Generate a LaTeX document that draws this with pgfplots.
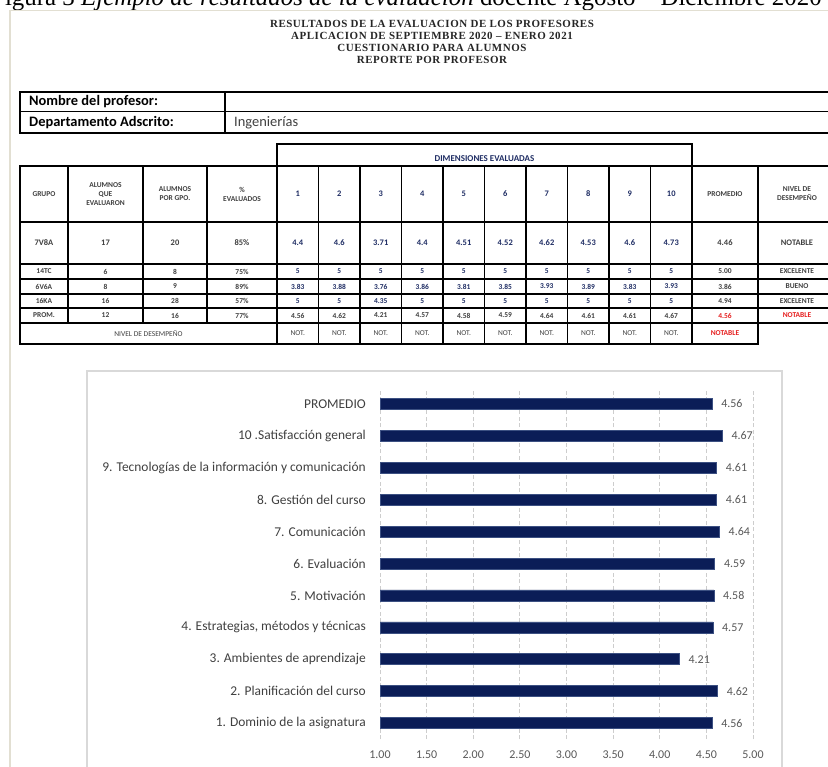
\documentclass[border=0pt]{standalone}
\usepackage{fontspec}
\setmainfont{Carlito}
\newfontfamily\tnr{Liberation Serif}
\newfontfamily\tnrw{Liberation Serif}[LetterSpace=5]
\usepackage{pgfplots}
\pgfplotsset{compat=1.18}
\definecolor{barblue}{RGB}{11,29,87}
\definecolor{baredge}{RGB}{60,80,130}
\definecolor{gridgray}{RGB}{205,205,205}
\definecolor{framegray}{RGB}{217,217,217}
\definecolor{txtgray}{RGB}{64,64,64}
\definecolor{lblgray}{RGB}{89,89,89}
\definecolor{tblnavy}{RGB}{31,45,100}
\definecolor{redtxt}{RGB}{230,30,30}
\definecolor{pageline}{RGB}{226,223,210}
\newcommand\fs[1]{\fontsize{#1}{#1}\selectfont}
\newcommand\rowvals[3]{\foreach \v [count=\i] in {#3} {\node[#2] at ({277+41.5*(\i-0.5)},#1) {\v};}}
\begin{document}
\begin{tikzpicture}
\path[use as bounding box] (0,0) rectangle (828bp,-767bp);
\clip (0,0) rectangle (828bp,-767bp);
\fill[white] (0,0) rectangle (828bp,-767bp);
\begin{scope}[x=1bp,y=-1bp]
% caption (cut at top, as in the reference)
\node[anchor=base west, inner sep=0] at (-9,5) {\tnr\fs{25}Figura 3 \textit{Ejemplo de resultados de la evaluación} docente Agosto – Diciembre 2020};
% page border
\draw[pageline, line width=1.5bp] (10,790) -- (10,10.5) -- (840,10.5);
% titles
\begin{scope}[every node/.style={inner sep=0, font=\tnrw\bfseries\fs{11}, text=black!85}]
\node at (432,24) {RESULTADOS DE LA EVALUACION DE LOS PROFESORES};
\node at (432,36) {APLICACION DE SEPTIEMBRE 2020 – ENERO 2021};
\node at (432,48) {CUESTIONARIO PARA ALUMNOS};
\node at (432,60) {REPORTE POR PROFESOR};
\end{scope}
% name box
\draw[line width=1.4bp] (20,92) rectangle (845,133);
\draw[line width=1.4bp] (20,111.5) -- (845,111.5) (225,92) -- (225,133);
\node[anchor=west, inner sep=0, font=\bfseries\fs{14.5}] at (29,102) {Nombre del profesor:};
\node[anchor=west, inner sep=0, font=\bfseries\fs{14.5}] at (29,122.5) {Departamento Adscrito:};
\node[anchor=west, inner sep=0, font=\fs{14.5}, text=txtgray] at (234,122.5) {Ingenierías};
% main table lines
\begin{scope}[line width=1.6bp, line cap=rect]
\draw (277,144) rectangle (692,166);
\foreach \yy in {166,222,264,279,294,308,323} \draw (20,\yy) -- (845,\yy);
\draw (20,344) -- (758,344);
\draw (20,166) -- (20,344);
\foreach \xx in {68,143,207} \draw (\xx,166) -- (\xx,323);
\foreach \k in {0,...,10} \draw ({277+41.5*\k},166) -- ({277+41.5*\k},344);
\draw (758,166) -- (758,344);
\end{scope}
\node[inner sep=0, font=\bfseries\fs{9}, text=tblnavy] at (484.5,159) {DIMENSIONES EVALUADAS};
\begin{scope}[every node/.style={inner sep=0, font=\bfseries\fontsize{7.5}{9}\selectfont, text=txtgray, align=center}]
\node at (44,194) {GRUPO};
\node at (105.5,194) {ALUMNOS\\QUE\\EVALUARON};
\node at (175,194) {ALUMNOS\\POR GPO.};
\node at (242,194) {\%\\EVALUADOS};
\node at (725,194) {PROMEDIO};
\node at (797,194) {NIVEL DE\\DESEMPEÑO};
\node[font=\bfseries\fs{8.5}] at (44,243) {7V8A};
\node[font=\bfseries\fs{8.5}] at (105.5,243) {17};
\node[font=\bfseries\fs{8.5}] at (175,243) {20};
\node[font=\bfseries\fs{8.5}] at (242,243) {85\%};
\node[font=\bfseries\fs{8.5}] at (725,243) {4.46};
\node[font=\bfseries\fs{8.5}] at (797,243) {NOTABLE};
\node at (44,271.5) {14TC}; \node at (105.5,271.5) {6}; \node at (175,271.5) {8}; \node at (242,271.5) {75\%};
\node at (725,271.5) {5.00}; \node at (797,271.5) {EXCELENTE};
\node at (44,286.5) {6V6A}; \node at (105.5,286.5) {8}; \node at (175,286.5) {9}; \node at (242,286.5) {89\%};
\node at (725,286.5) {3.86}; \node at (797,286.5) {BUENO};
\node at (44,301) {16KA}; \node at (105.5,301) {16}; \node at (175,301) {28}; \node at (242,301) {57\%};
\node at (725,301) {4.94}; \node at (797,301) {EXCELENTE};
\node at (44,315.5) {PROM.}; \node at (105.5,315.5) {12}; \node at (175,315.5) {16}; \node at (242,315.5) {77\%};
\node[text=redtxt] at (725,315.5) {4.56}; \node[text=redtxt] at (797,315.5) {NOTABLE};
\node[font=\fs{7.5}] at (148.5,333.5) {NIVEL DE DESEMPEÑO};
\node[text=redtxt] at (725,333.5) {NOTABLE};
\end{scope}
\rowvals{194}{inner sep=0, font=\bfseries\fs{8.5}, text=tblnavy}{1,2,3,4,5,6,7,8,9,10}
\rowvals{243}{inner sep=0, font=\bfseries\fs{8.5}, text=tblnavy}{4.4,4.6,3.71,4.4,4.51,4.52,4.62,4.53,4.6,4.73}
\rowvals{271.5}{inner sep=0, font=\bfseries\fs{7.5}, text=tblnavy}{5,5,5,5,5,5,5,5,5,5}
\rowvals{286.5}{inner sep=0, font=\bfseries\fs{7.5}, text=tblnavy}{3.83,3.88,3.76,3.86,3.81,3.85,3.93,3.89,3.83,3.93}
\rowvals{301}{inner sep=0, font=\bfseries\fs{7.5}, text=tblnavy}{5,5,4.35,5,5,5,5,5,5,5}
\rowvals{315.5}{inner sep=0, font=\bfseries\fs{7.5}, text=txtgray}{4.56,4.62,4.21,4.57,4.58,4.59,4.64,4.61,4.61,4.67}
\rowvals{333.5}{inner sep=0, font=\fs{7.5}, text=txtgray}{NOT.,NOT.,NOT.,NOT.,NOT.,NOT.,NOT.,NOT.,NOT.,NOT.}
% chart frame
\draw[framegray, line width=1.2bp] (87,371) rectangle (782,800);
\end{scope}
\begin{axis}[
  at={(380bp,-739bp)}, anchor=south west,
  scale only axis, width=419.6bp, height=351bp,
  xmin=1, xmax=5.5, ymin=-0.5, ymax=10.5,
  xbar, bar width=11bp,
  xtick={1,1.5,2,2.5,3,3.5,4,4.5,5},
  ytick={0,...,10},
  yticklabels={1. Dominio de la asignatura, 2. Planificación del curso, 3. Ambientes de aprendizaje, {4. Estrategias, métodos y técnicas}, 5. Motivación, 6. Evaluación, 7. Comunicación, 8. Gestión del curso, 9. Tecnologías de la información y comunicación, 10 .Satisfacción general, PROMEDIO},
  axis line style={draw=none}, major tick length=0pt,
  xmajorgrids, major grid style={draw=gridgray, dash pattern=on 4bp off 2.5bp, line width=0.9bp},
  xticklabel={\pgfmathprintnumber[fixed,fixed zerofill,precision=2,assume math mode=true]{\tick}},
  xticklabel style={font=\fs{12}, text=lblgray, inner sep=0pt, yshift=-12bp},
  yticklabel style={font=\fs{13.5}, text=txtgray, inner sep=0pt, xshift=-14bp},
  point meta=x,
  nodes near coords={\pgfmathprintnumber[fixed,fixed zerofill,precision=2,assume math mode=true]{\pgfplotspointmeta}},
  nodes near coords style={font=\fs{12}, text=lblgray, inner sep=0pt, xshift=9bp},
]
\addplot[fill=barblue, draw=baredge, line width=0.6bp] coordinates {(4.56,0) (4.62,1) (4.21,2) (4.57,3) (4.58,4) (4.59,5) (4.64,6) (4.61,7) (4.61,8) (4.67,9) (4.56,10)};
\end{axis}
\end{tikzpicture}
\end{document}
